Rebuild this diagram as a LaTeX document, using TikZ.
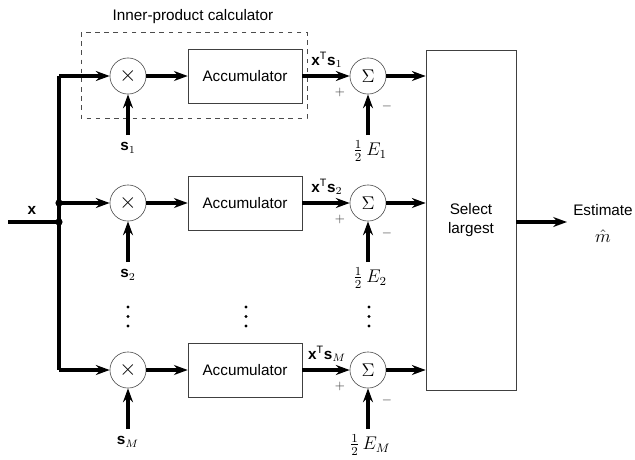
\documentclass[tikz,border=0pt]{standalone}
\usepackage{amsmath}
\usepackage{fontspec}
\setmainfont{Liberation Sans}
\usetikzlibrary{positioning,arrows.meta}
\tikzset{
  uzel/.style={circle,draw=black!70,thin,minimum size=0.83cm,inner sep=0pt,font=\large},
  blok/.style={draw=black!75,thin,minimum width=2.62cm,minimum height=1.24cm,inner sep=1pt},
  sip/.style={-{Stealth[length=9pt,width=6.5pt]},line width=2.1pt},
  vodic/.style={line width=2.1pt},
  znak/.style={font=\footnotesize,text=black!75},
}
\newcommand{\bx}{{\bfseries x}}
\newcommand{\bs}{{\bfseries s}}

\begin{document}
\begin{tikzpicture}[x=0.023cm,y=-0.023cm]
  \useasboundingbox (0,0) rectangle (635,460);
  \node (titul) at (193,17) {Inner-product calculator};
  \draw[dashed,black!70,thin] (81,32) rectangle (307,118);
  \node[blok,minimum width=2.07cm,minimum height=7.82cm,align=center] (vyber) at (471,220) {Select\\largest};
  \node[inner sep=1pt] (odhad) at (603,210) {Estimate};
  \node[font=\large,inner sep=1pt] (mhat) at (603,236) {$\hat{m}$};
  \coordinate (konec) at (567,222);
  % vstupni sbernice
  \coordinate (vstup) at (8,222);
  \coordinate (bus1) at (59,76); \coordinate (bus2) at (59,203);
  \coordinate (busx) at (59,222); \coordinate (busM) at (59,370);
  \draw[vodic] (bus1) -- (busM);
  \draw[vodic] (vstup) -- (busx);
  \fill (bus2) circle (3.6); \fill (busx) circle (3.6);
  \node (xlab) at (32,210) {\bx};
  \foreach \y/\k in {76/1,203/2,370/M}{
    \node[uzel] (mul\k) at (128,\y) {\Large$\times$};
    \node[blok] (acc\k) at (245,\y) {Accumulator};
    \node[uzel] (sum\k) at (368,\y) {$\Sigma$};
    \coordinate (s\k) at (128,\y+59);
    \coordinate (e\k) at (368,\y+59);
    \draw[sip] (bus\k) -- (mul\k);
    \draw[sip] (mul\k) -- (acc\k);
    \draw[sip] (acc\k) -- (sum\k);
    \draw[sip] (sum\k) -- (vyber.west |- sum\k);
    \draw[sip] (s\k) -- (mul\k);
    \draw[sip] (e\k) -- (sum\k);
    \node (slab\k) at (128,\y+72) {\bs$_{\k}$};
    \node (ilab\k) at (327,\y-16) {\bx\textsuperscript{T}\bs$_{\k}$};
    \node[znak] (plus\k) at (340,\y+16) {$+$};
    \node[znak] (minus\k) at (387,\y+30) {$-$};
    \node[font=\large] (elab\k) at (370,\y+75) {$\tfrac{1}{2}\,E_{\k}$};
  }
  \draw[sip] (vyber.east |- konec) -- (konec);
  % tecky
  \foreach \x in {128,246,369}
    \foreach \t in {307,316.5,326}
      \fill (\x,\t) circle (1.6);
\end{tikzpicture}
\end{document}
